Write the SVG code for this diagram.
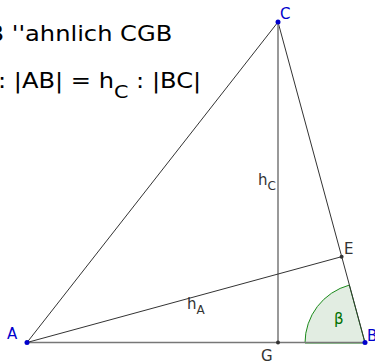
<svg xmlns="http://www.w3.org/2000/svg" width="375" height="362" viewBox="0 0 375 362">
<style>
.t{font-family:"DejaVu Sans",sans-serif;font-size:21px;fill:#000}
.lbl{font-family:"DejaVu Sans",sans-serif;font-size:15px}
.blue{fill:#0000cc}
.dark{fill:#333}
.seg{stroke:#333;stroke-width:1;fill:none}
.segg{stroke:#777;stroke-width:1.5;fill:none}
</style>
<rect width="375" height="362" fill="#fff"/>
<g id="title" transform="scale(1.15,1)">
<text class="t" x="-10.8" y="41">B ''ahnlich CGB</text>
<text class="t" x="-1.7" y="88">: |AB| = h<tspan font-size="18" dy="10">C</tspan><tspan dy="-10"> : |BC|</tspan></text>
</g>
<g id="angle">
<path d="M365,343 L305,343 A60,60 0 0,1 349.3,285.1 Z" fill="#e2ede2" stroke="#1a8a1a" stroke-width="1"/>
<text x="334" y="324" font-family="DejaVu Sans,sans-serif" font-size="15" fill="#007000">β</text>
</g>
<g id="connectors">
<line class="segg" x1="27" y1="342.5" x2="365" y2="342.5"/>
<line class="seg" x1="27" y1="342.5" x2="278" y2="22"/>
<line class="seg" x1="278" y1="22" x2="365" y2="342.5"/>
<line class="segg" x1="278" y1="22" x2="278" y2="342.5"/>
<line class="seg" x1="27" y1="342.5" x2="341.6" y2="256.7"/>
</g>
<g id="A"><circle cx="27" cy="342.5" r="2.5" fill="#0000cc"/><text class="lbl blue" x="7" y="339">A</text></g>
<g id="B"><circle cx="365" cy="342.5" r="2.5" fill="#0000cc"/><text class="lbl blue" x="367" y="341">B</text></g>
<g id="C"><circle cx="278" cy="22" r="2.5" fill="#0000cc"/><text class="lbl blue" x="280" y="19">C</text></g>
<g id="E"><circle cx="341.6" cy="256.7" r="2" fill="#333"/><text class="lbl dark" x="344" y="254">E</text></g>
<g id="G"><circle cx="278" cy="342.5" r="2" fill="#333"/><text class="lbl dark" x="261" y="361">G</text></g>
<g id="hC"><text class="lbl dark" x="258" y="185">h<tspan font-size="12" dy="5">C</tspan></text></g>
<g id="hA"><text class="lbl dark" x="187" y="309">h<tspan font-size="12" dy="5">A</tspan></text></g>
</svg>
